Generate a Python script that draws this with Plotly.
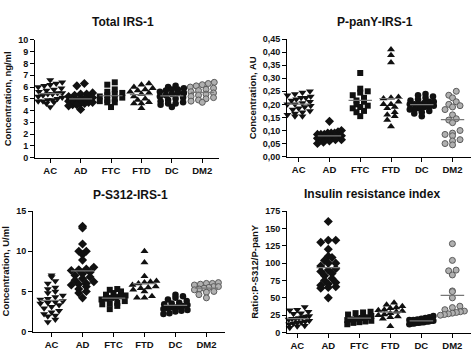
import plotly.graph_objects as go
import numpy as np

categories = ["AC", "AD", "FTC", "FTD", "DC", "DM2"]
symbols = ["triangle-down", "diamond", "square", "triangle-up", "circle", "circle"]

# Total IRS-1, ng/ml
total_AC = [6.6, 6.4, 6.3, 6.2, 6.1, 6.0, 5.9, 5.8, 5.7, 5.6, 5.5, 5.5, 5.4, 5.4, 5.3, 5.2, 5.1, 5.0, 4.9, 4.9, 4.8, 4.8, 4.7, 4.6, 4.3]
total_AD = [6.3, 6.1, 5.5, 5.4, 5.4, 5.3, 5.2, 5.1, 5.1, 5.0, 5.0, 4.9, 4.9, 4.8, 4.8, 4.7, 4.7, 4.6, 4.6, 4.5, 4.5, 4.4, 4.1]
total_FTC = [6.4, 6.2, 5.8, 5.6, 5.5, 5.4, 5.3, 5.2, 5.1, 5.0, 4.9, 4.8, 4.7, 4.7, 4.3]
total_FTD = [6.3, 6.2, 6.0, 5.9, 5.8, 5.7, 5.6, 5.5, 5.4, 5.2, 5.0, 4.9, 4.7, 4.6, 4.6, 4.2]
total_DC = [6.1, 6.0, 5.9, 5.8, 5.8, 5.7, 5.6, 5.5, 5.5, 5.4, 5.3, 5.2, 5.1, 5.0, 4.9, 4.8, 4.7, 4.6, 4.6, 4.5, 4.3]
total_DM2 = [6.4, 6.3, 6.2, 6.1, 6.0, 5.9, 5.8, 5.7, 5.6, 5.5, 5.4, 5.3, 5.2, 5.1, 5.0, 4.9, 4.8, 4.7]

# P-panY-IRS-1, AU
pany_AC = [0.25, 0.245, 0.24, 0.235, 0.23, 0.225, 0.225, 0.22, 0.215, 0.215, 0.21, 0.205, 0.20, 0.20, 0.195, 0.19, 0.185, 0.18, 0.18, 0.175, 0.17, 0.165, 0.16, 0.155, 0.155]
pany_AD = [0.135, 0.10, 0.095, 0.09, 0.09, 0.09, 0.085, 0.085, 0.085, 0.08, 0.08, 0.08, 0.075, 0.075, 0.075, 0.07, 0.07, 0.065, 0.065, 0.06, 0.055, 0.05]
pany_FTC = [0.32, 0.26, 0.25, 0.245, 0.235, 0.225, 0.215, 0.21, 0.20, 0.195, 0.19, 0.185, 0.175, 0.17, 0.155]
pany_FTD = [0.41, 0.388, 0.36, 0.228, 0.225, 0.222, 0.21, 0.20, 0.20, 0.19, 0.185, 0.17, 0.16, 0.155, 0.14, 0.115]
pany_DC = [0.24, 0.235, 0.23, 0.225, 0.22, 0.215, 0.21, 0.21, 0.205, 0.20, 0.20, 0.20, 0.195, 0.19, 0.19, 0.185, 0.18, 0.18, 0.175, 0.17, 0.165, 0.155]
pany_DM2 = [0.25, 0.235, 0.225, 0.21, 0.20, 0.195, 0.19, 0.18, 0.16, 0.145, 0.14, 0.13, 0.10, 0.09, 0.085, 0.08, 0.065, 0.06, 0.05, 0.045]

# P-S312-IRS-1, U/ml
ps312_AC = [7.0, 6.8, 6.3, 6.0, 5.5, 5.3, 5.0, 4.8, 4.5, 4.3, 4.1, 4.0, 3.8, 3.7, 3.6, 3.5, 3.3, 3.1, 2.9, 2.6, 2.4, 2.2, 2.0, 1.9, 1.5, 1.2]
ps312_AD = [13.1, 12.9, 10.9, 10.0, 10.0, 9.6, 8.9, 8.0, 7.8, 7.7, 7.6, 7.4, 7.2, 7.0, 6.8, 6.6, 6.4, 6.2, 6.0, 5.9, 5.8, 5.6, 5.3, 5.0, 4.8, 4.2]
ps312_FTC = [5.3, 5.2, 5.0, 4.8, 4.6, 4.5, 4.4, 4.3, 4.2, 4.1, 4.0, 3.8, 3.6, 3.5, 3.4, 3.2, 2.8]
ps312_FTD = [10.0, 8.6, 6.9, 6.3, 6.2, 6.1, 6.0, 5.8, 5.6, 5.5, 5.4, 5.2, 5.0, 4.4, 4.2, 4.2]
ps312_DC = [4.6, 4.4, 4.2, 4.0, 3.8, 3.6, 3.5, 3.4, 3.3, 3.2, 3.1, 3.0, 2.9, 2.8, 2.7, 2.6, 2.5, 2.3, 2.2]
ps312_DM2 = [6.1, 6.0, 6.0, 5.9, 5.8, 5.6, 5.6, 5.5, 5.4, 5.3, 5.2, 5.0, 4.9, 4.6, 4.2]

# Insulin resistance index
iri_AC = [37, 33, 32, 30, 28, 27, 25, 24, 23, 22, 21, 20, 20, 19, 18, 17, 16, 15, 14, 13, 12, 11, 10, 9, 7]
iri_AD = [160, 133, 133, 130, 120, 110, 108, 104, 100, 100, 96, 92, 90, 88, 85, 82, 78, 75, 72, 70, 68, 66, 65, 64, 50]
iri_FTC = [30, 29, 28, 26, 24, 22, 21, 20, 19, 18, 17, 16, 15, 14, 12]
iri_FTD = [43, 40, 38, 36, 35, 33, 32, 31, 30, 28, 26, 25, 23, 22, 20, 9]
iri_DC = [24, 22, 21, 20, 19, 18, 18, 17, 17, 16, 16, 15, 15, 14, 14, 13, 13, 12]
iri_DM2 = [128, 104, 90, 89, 83, 60, 59, 50, 38, 36, 33, 31, 30, 29, 28, 27, 26, 25]

panels = [
    dict(title="Total IRS-1", ytitle="Concentration, ng/ml",
         groups=[total_AC, total_AD, total_FTC, total_FTD, total_DC, total_DM2],
         px=(35, 219), py=(36, 157), xr=(-0.5, 5.55), yr=(0, 10),
         tickvals=list(range(0, 11)), ticktext=[str(v) for v in range(0, 11)],
         tx=123, ty=18),
    dict(title="P-panY-IRS-1", ytitle="Concentration, AU",
         groups=[pany_AC, pany_AD, pany_FTC, pany_FTD, pany_DC, pany_DM2],
         px=(287, 471), py=(35, 156), xr=(-0.38, 5.6), yr=(0, 0.45),
         tickvals=[i * 0.05 for i in range(10)],
         ticktext=[f"{i*0.05:.2f}".replace(".", ",") for i in range(10)],
         tx=375, ty=18),
    dict(title="P-S312-IRS-1", ytitle="Concentration, U/ml",
         groups=[ps312_AC, ps312_AD, ps312_FTC, ps312_FTD, ps312_DC, ps312_DM2],
         px=(33, 225), py=(212, 336), xr=(-0.6, 5.6), yr=(0, 15),
         tickvals=[0, 5, 10, 15], ticktext=["0", "5", "10", "15"],
         tx=130, ty=195),
    dict(title="Insulin resistance index", ytitle="Ratio:P-S312/P-panY",
         groups=[iri_AC, iri_AD, iri_FTC, iri_FTD, iri_DC, iri_DM2],
         px=(287, 471), py=(212, 337), xr=(-0.33, 5.6), yr=(0, 175),
         tickvals=list(range(0, 176, 25)), ticktext=[str(v) for v in range(0, 176, 25)],
         tx=372, ty=194),
]

W, H = 474, 358


def swarm(values, ypx, xpx, rowh=5.0, step=7.5, half=12.0):
    """Prism-like scatter: bin values into rows, spread points of a row symmetrically."""
    vals = np.asarray(values, dtype=float)
    rows = np.round(vals * ypx / rowh).astype(int)
    offs = np.zeros(len(vals))
    for r in np.unique(rows):
        idx = np.where(rows == r)[0]
        idx = idx[np.argsort(vals[idx])]
        k = len(idx)
        if k == 1:
            continue
        s = min(step, 2 * half / (k - 1))
        for j, i in enumerate(idx):
            offs[i] = (j - (k - 1) / 2) * s / xpx
    return offs


fig = go.Figure()
FONT = "Liberation Sans, Arial, sans-serif"

for p_i, p in enumerate(panels):
    n = p_i + 1
    xa = "x" if n == 1 else f"x{n}"
    ya = "y" if n == 1 else f"y{n}"
    x0, x1 = p["px"]
    ytop, ybot = p["py"]
    xpx = (x1 - x0) / (p["xr"][1] - p["xr"][0])
    ypx = (ybot - ytop) / (p["yr"][1] - p["yr"][0])
    for g, vals in enumerate(p["groups"]):
        offs = swarm(vals, ypx, xpx)
        xs = g + offs
        if g == 5:
            mk = dict(symbol=symbols[g], size=6, color="#b0b0b0", line=dict(color="#5a5a5a", width=1))
        else:
            size = {"triangle-down": 7, "diamond": 7, "square": 6, "triangle-up": 7, "circle": 6.5}[symbols[g]]
            mk = dict(symbol=symbols[g], size=size, color="#111111", line=dict(width=0))
        fig.add_trace(go.Scatter(x=xs, y=vals, mode="markers", marker=mk, xaxis=xa, yaxis=ya,
                                 showlegend=False, cliponaxis=False, hoverinfo="skip"))
        m = float(np.mean(vals))
        fig.add_trace(go.Scatter(x=[g - 0.38, g + 0.38], y=[m, m], mode="lines",
                                 line=dict(color="#777777", width=1.2), xaxis=xa, yaxis=ya,
                                 showlegend=False, hoverinfo="skip"))
    xkey = "xaxis" if n == 1 else f"xaxis{n}"
    ykey = "yaxis" if n == 1 else f"yaxis{n}"
    fig.update_layout(**{
        xkey: dict(domain=[x0 / W, x1 / W], anchor=ya, range=list(p["xr"]),
                   tickvals=list(range(6)), ticktext=categories,
                   showline=True, linecolor="black", linewidth=1,
                   ticks="outside", ticklen=4, tickcolor="black",
                   showgrid=False, zeroline=False,
                   tickfont=dict(family=FONT, size=9.5, color="#111", weight="bold")),
        ykey: dict(domain=[1 - ybot / H, 1 - ytop / H], anchor=xa, range=list(p["yr"]),
                   tickvals=p["tickvals"], ticktext=p["ticktext"],
                   showline=True, linecolor="black", linewidth=1,
                   ticks="outside", ticklen=4, tickcolor="black",
                   showgrid=False, zeroline=False,
                   tickfont=dict(family=FONT, size=9, color="#111", weight="bold"),
                   title=dict(text=p["ytitle"], standoff=4,
                              font=dict(family=FONT, size=9.5, color="#111", weight="bold"))),
    })
    fig.add_annotation(x=p["tx"] / W, y=1 - p["ty"] / H, xref="paper", yref="paper",
                       text=p["title"], showarrow=False, xanchor="center", yanchor="middle",
                       font=dict(family=FONT, size=12, color="#111", weight="bold"))

fig.update_layout(width=W, height=H, margin=dict(l=0, r=0, t=0, b=0),
                  paper_bgcolor="white", plot_bgcolor="white")

fig.write_html("out.html", config={"displayModeBar": False},
               post_script="document.body.style.margin='0';document.body.style.overflow='hidden';")
